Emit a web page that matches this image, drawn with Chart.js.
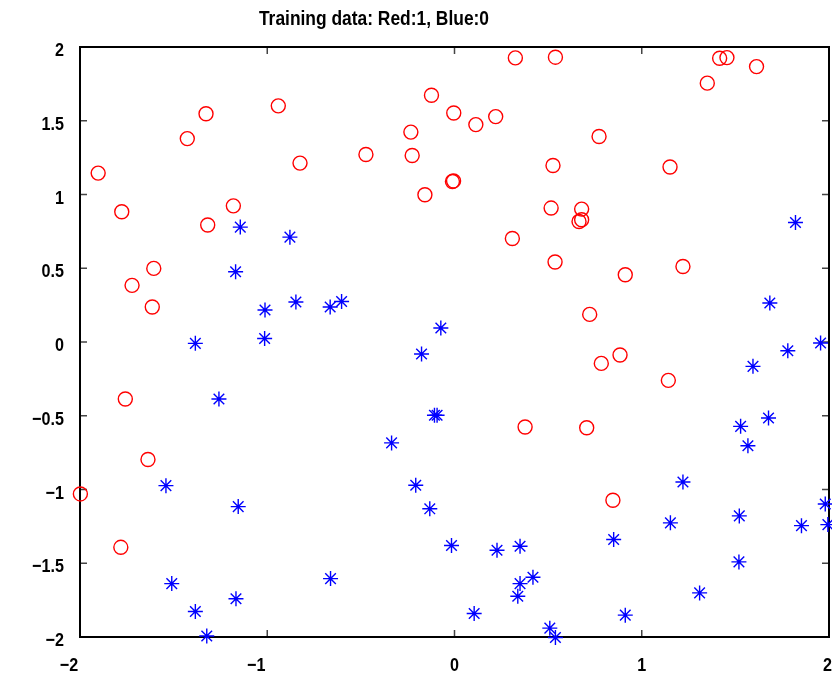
<!DOCTYPE html>
<html>
<head>
<meta charset="utf-8">
<script src="https://cdn.jsdelivr.net/npm/chart.js@4"></script>
<style>
  html, body { margin: 0; padding: 0; background: #fff; }
  #wrap { width: 832px; height: 678px; position: relative; }
</style>
</head>
<body>
<div id="wrap"><canvas id="c" width="832" height="678"></canvas></div>
<script>
const chartTitle = 'Training data: Red:1, Blue:0';
const seriesNames = ['Red:1', 'Blue:0'];

const redX = [-1.903,-1.777,-1.427,-1.327,-0.941,-0.825,-1.181,-1.318,
  0.325,0.539,-0.123,-0.004,0.114,0.220,-0.233,-0.473,-0.226,0.526,-0.011,-0.005,-0.158,0.516,0.309,
  1.416,1.455,1.613,1.350,0.772,1.151,0.679,0.665,0.679,
  -1.606,-1.722,-1.614,-1.758,
  0.537,0.377,
  0.912,1.220,0.722,0.884,0.784,1.142,0.706,
  -1.637,-1.998,-1.782,
  0.846];
const redY = [1.145,0.883,1.379,1.547,1.601,1.213,0.923,0.793,
  1.926,1.931,1.673,1.553,1.474,1.528,1.423,1.271,1.264,1.197,1.088,1.092,0.998,0.908,0.702,
  1.924,1.928,1.867,1.755,1.393,1.186,0.901,0.817,0.829,
  0.499,0.384,0.237,-0.386,
  0.542,-0.576,
  0.456,0.512,0.187,-0.088,-0.145,-0.260,-0.581,
  -0.797,-1.030,-1.392,
  -1.073];

const blueX = [-1.144,-0.879,-1.169,-1.012,-0.847,-1.384,-1.014,-1.258,
  -0.664,-0.603,-0.073,-0.176,-0.107,-0.093,-0.336,
  1.821,1.684,1.780,1.955,1.594,1.677,1.528,1.567,
  -1.541,-1.155,-1.510,-1.167,-1.384,-1.323,
  -0.207,-0.132,-0.016,-0.662,0.227,0.350,0.419,0.350,0.338,0.105,0.509,0.539,
  1.220,1.153,0.850,1.521,1.519,1.309,0.912,1.853,1.980,1.994];
const blueY = [0.779,0.711,0.476,0.217,0.271,-0.009,0.024,-0.386,
  0.237,0.275,0.095,-0.081,-0.497,-0.497,-0.684,
  0.810,0.264,-0.059,-0.007,-0.165,-0.515,-0.572,-0.703,
  -0.974,-1.116,-1.638,-1.741,-1.827,-1.993,
  -0.971,-1.131,-1.380,-1.604,-1.412,-1.385,-1.595,-1.638,-1.724,-1.841,-1.940,-2.003,
  -0.949,-1.226,-1.339,-1.179,-1.491,-1.701,-1.852,-1.245,-1.098,-1.238];

const xTickLabels = ['\u22122', '\u22121', '0', '1', '2'];
const yTickLabels = ['\u22122', '\u22121.5', '\u22121', '\u22120.5', '0', '0.5', '1', '1.5', '2'];

const FONT = "'Liberation Sans', Arial, sans-serif";
const SQUEEZE = 0.85;

function pts(xs, ys) { return xs.map((x, i) => ({ x: x, y: ys[i] })); }

function squeezedText(ctx, text, x, y, align, sx) {
  ctx.save();
  ctx.translate(x, y);
  ctx.scale(sx, 1);
  ctx.textAlign = align;
  ctx.fillText(text, 0, 0);
  ctx.restore();
}

const framePlugin = {
  id: 'frame',
  beforeDatasetsDraw(chart) {
    const ctx = chart.ctx, a = chart.chartArea;
    const xs = chart.scales.x, ys = chart.scales.y;
    ctx.save();
    ctx.strokeStyle = '#444';
    ctx.lineWidth = 1.5;
    const L = 7;
    ctx.beginPath();
    xs.ticks.forEach(t => {
      const p = xs.getPixelForValue(t.value);
      ctx.moveTo(p, a.bottom); ctx.lineTo(p, a.bottom - L);
      ctx.moveTo(p, a.top); ctx.lineTo(p, a.top + L);
    });
    ys.ticks.forEach(t => {
      const p = ys.getPixelForValue(t.value);
      ctx.moveTo(a.left, p); ctx.lineTo(a.left + L, p);
      ctx.moveTo(a.right, p); ctx.lineTo(a.right - L, p);
    });
    ctx.stroke();
    ctx.strokeStyle = '#000';
    ctx.lineWidth = 2;
    ctx.strokeRect(a.left, a.top, a.right - a.left, a.bottom - a.top);

    // tick labels, placed through the library's scales
    ctx.fillStyle = '#000';
    ctx.font = 'bold 19px ' + FONT;
    ctx.textBaseline = 'middle';
    ys.ticks.forEach((t, i) => {
      const p = ys.getPixelForValue(t.value);
      squeezedText(ctx, yTickLabels[i], a.left - 16, p + 4, 'right', SQUEEZE);
    });
    xs.ticks.forEach((t, i) => {
      let p = xs.getPixelForValue(t.value);
      const w = ctx.measureText(xTickLabels[i]).width * SQUEEZE;
      if (t.value < 0) p -= 11;
      p = Math.min(p, chart.width - w / 2);
      squeezedText(ctx, xTickLabels[i], p, a.bottom + 29, 'center', SQUEEZE);
    });
    ctx.restore();
  },
  afterDraw(chart) {
    const ctx = chart.ctx;
    ctx.save();
    ctx.fillStyle = '#000';
    ctx.font = 'bold 20px ' + FONT;
    ctx.textBaseline = 'alphabetic';
    squeezedText(ctx, chartTitle, 374, 25, 'center', 0.87);
    ctx.restore();
  }
};

new Chart(document.getElementById('c'), {
  type: 'scatter',
  data: {
    datasets: [
      { label: seriesNames[0], data: pts(redX, redY), pointStyle: 'circle', pointRadius: 7, pointHoverRadius: 7,
        borderColor: '#ff0000', backgroundColor: 'rgba(0,0,0,0)', pointBorderWidth: 1.4, clip: false },
      { label: seriesNames[1], data: pts(blueX, blueY), pointStyle: 'star', pointRadius: 7.5, pointHoverRadius: 7.5,
        borderColor: '#0000ff', backgroundColor: '#0000ff', pointBorderWidth: 1.4, clip: false }
    ]
  },
  options: {
    responsive: false,
    animation: false,
    events: [],
    layout: { autoPadding: false, padding: { top: 47, right: 3, left: 0, bottom: 0 } },
    plugins: { legend: { display: false }, tooltip: { enabled: false }, title: { display: false } },
    scales: {
      x: {
        type: 'linear', min: -2, max: 2,
        border: { display: false },
        grid: { display: false, drawTicks: false },
        ticks: { stepSize: 1, display: false },
        afterFit: (s) => { s.height = 41; }
      },
      y: {
        type: 'linear', min: -2, max: 2,
        border: { display: false },
        grid: { display: false, drawTicks: false },
        ticks: { stepSize: 0.5, display: false },
        afterFit: (s) => { s.width = 80; }
      }
    }
  },
  plugins: [framePlugin]
});
</script>
</body>
</html>
